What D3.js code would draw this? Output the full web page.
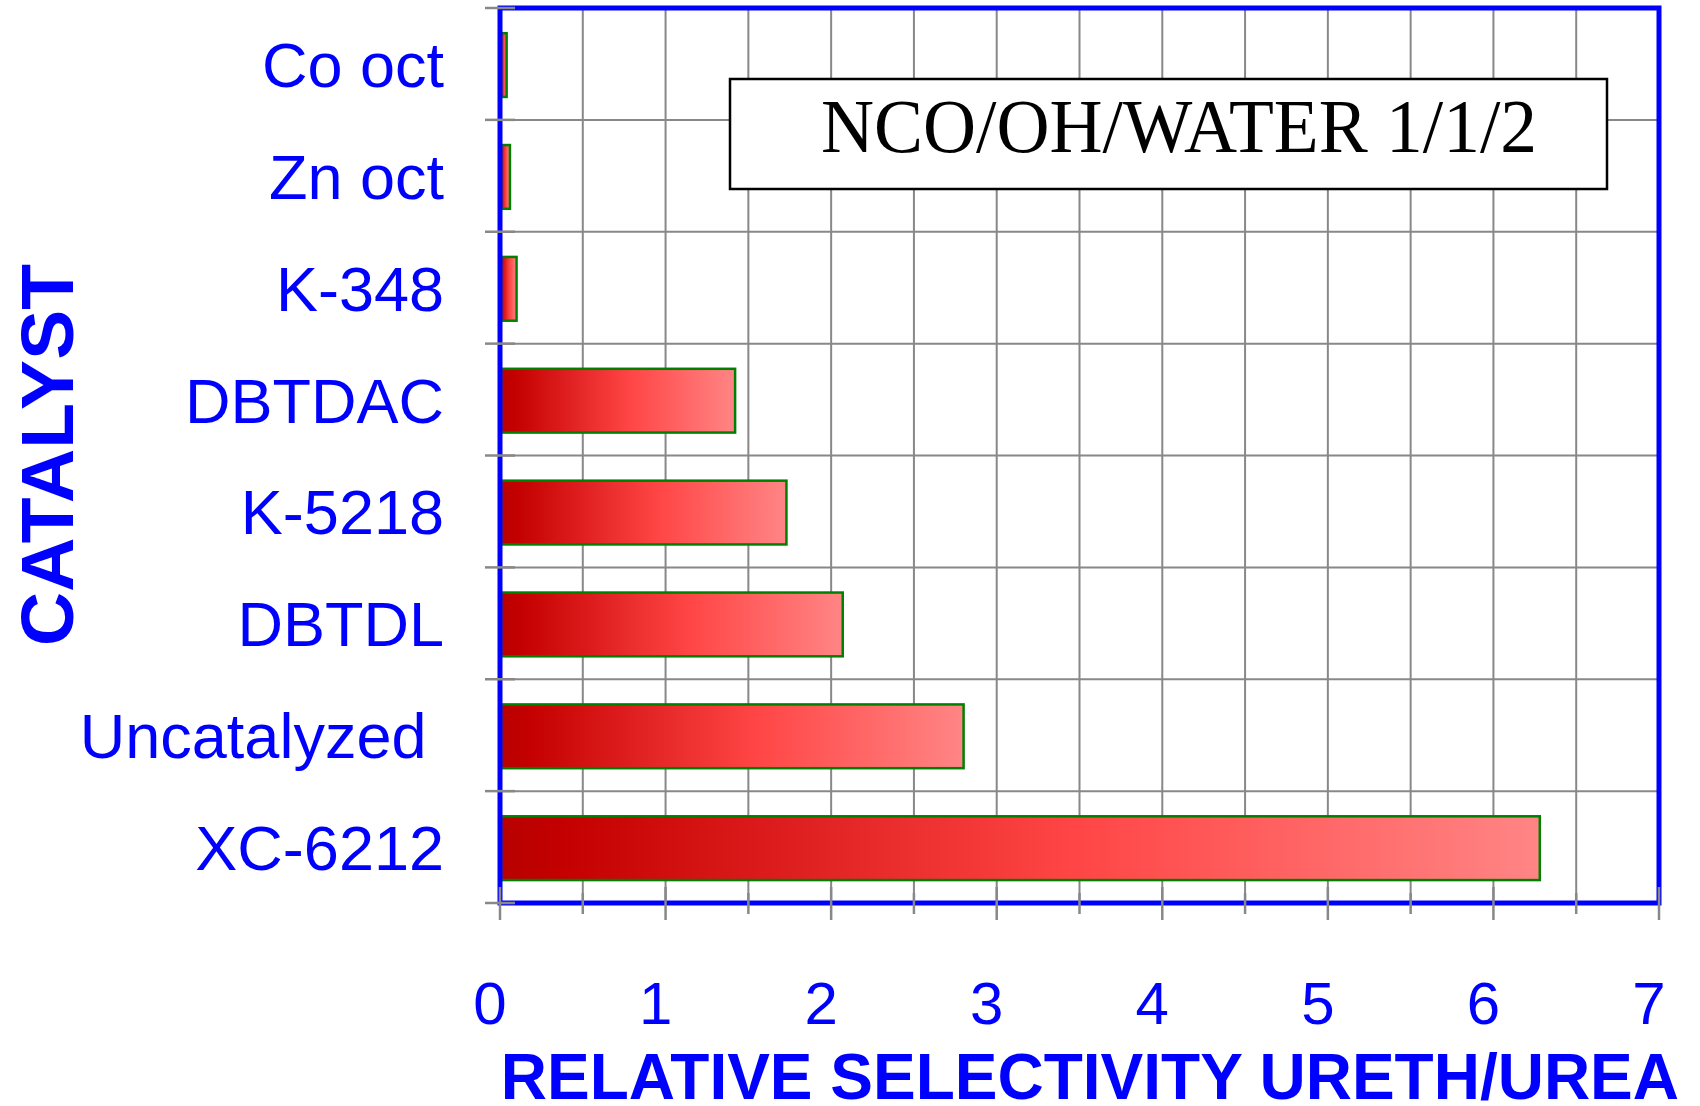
<html>
<head>
<meta charset="utf-8">
<title>Relative selectivity</title>
<style>
  body { margin: 0; background: #fff; }
  .grid line { stroke: #888; stroke-width: 2px; }
  .ticks line { stroke: #888; stroke-width: 2.5px; }
  .border { fill: none; stroke: #0000ff; stroke-width: 5px; }
  .bar { stroke: #008000; stroke-width: 2.5px; }
  .cat { font-family: "Liberation Sans", Arial, sans-serif; font-size: 63px; fill: #0000ff; white-space: pre; }
  .xt { font-family: "Liberation Sans", Arial, sans-serif; font-size: 60px; fill: #0000ff; }
  .atitle { font-family: "Liberation Sans", Arial, sans-serif; font-weight: bold; fill: #0000ff; }
</style>
</head>
<body>
<svg width="1700" height="1106"></svg>
<script src="https://d3js.org/d3.v7.min.js"></script>
<script>
// data, top to bottom
var catalysts = ["Co oct", "Zn oct", "K-348", "DBTDAC", "K-5218", "DBTDL", "Uncatalyzed ", "XC-6212"];
var selectivity = [0.04, 0.06, 0.10, 1.42, 1.73, 2.07, 2.80, 6.28];
var xTicks = [0, 1, 2, 3, 4, 5, 6, 7];
var xMinor = [0.5, 1.5, 2.5, 3.5, 4.5, 5.5, 6.5];
var boxLabel = "NCO/OH/WATER 1/1/2";

var svg = d3.select("svg");
var plotL = 500, plotR = 1659, plotT = 8, plotB = 903;

var x = d3.scaleLinear().domain([0, 7]).range([plotL, plotR]);
var y = d3.scaleBand().domain(catalysts).range([plotT, plotB]);
var bw = y.bandwidth();

var data = catalysts.map(function (c, i) { return { name: c, value: selectivity[i] }; });

// gradient for bars
var grad = svg.append("defs").append("linearGradient")
    .attr("id", "barGrad")
    .attr("x1", "0").attr("x2", "1").attr("y1", "0").attr("y2", "0");
grad.append("stop").attr("offset", "0").attr("stop-color", "#b80000");
grad.append("stop").attr("offset", "0.06").attr("stop-color", "#c40000");
grad.append("stop").attr("offset", "0.55").attr("stop-color", "#ff4545");
grad.append("stop").attr("offset", "1").attr("stop-color", "#ff8585");

// grid
var grid = svg.append("g").attr("class", "grid");
grid.selectAll(".v").data(xTicks.concat(xMinor)).enter().append("line")
    .attr("x1", function (d) { return x(d); }).attr("x2", function (d) { return x(d); })
    .attr("y1", plotT).attr("y2", plotB);
var bounds = catalysts.map(function (c) { return y(c); }).concat([plotB]);
grid.selectAll(".h").data(bounds).enter().append("line")
    .attr("x1", plotL).attr("x2", plotR)
    .attr("y1", function (d) { return d; }).attr("y2", function (d) { return d; });

// bars
svg.append("g").selectAll("rect").data(data).enter().append("rect")
    .attr("class", "bar")
    .attr("fill", "url(#barGrad)")
    .attr("x", x(0) + 1)
    .attr("y", function (d) { return y(d.name) + bw * 0.225; })
    .attr("width", function (d) { return x(d.value) - x(0) - 1; })
    .attr("height", bw * 0.57);

// plot border
svg.append("rect").attr("class", "border")
    .attr("x", plotL).attr("y", plotT)
    .attr("width", plotR - plotL).attr("height", plotB - plotT);

// tick marks
var ticks = svg.append("g").attr("class", "ticks");
ticks.selectAll(".yt").data(bounds).enter().append("line")
    .attr("x1", plotL - 15).attr("x2", plotL + 15)
    .attr("y1", function (d) { return d; }).attr("y2", function (d) { return d; });
ticks.selectAll(".xmaj").data(xTicks).enter().append("line")
    .attr("x1", function (d) { return x(d); }).attr("x2", function (d) { return x(d); })
    .attr("y1", plotB - 16).attr("y2", plotB + 17);
ticks.selectAll(".xmin").data(xMinor).enter().append("line")
    .attr("x1", function (d) { return x(d); }).attr("x2", function (d) { return x(d); })
    .attr("y1", plotB - 10).attr("y2", plotB + 11);

// category labels
svg.append("g").selectAll("text").data(catalysts).enter().append("text")
    .attr("class", "cat")
    .attr("text-anchor", "end")
    .attr("x", 444)
    .attr("y", function (d) { return y(d) + bw / 2 + 23; })
    .text(function (d) { return d; });

// x tick labels
svg.append("g").selectAll("text").data(xTicks).enter().append("text")
    .attr("class", "xt")
    .attr("text-anchor", "middle")
    .attr("x", function (d) { return x(d) - 10; })
    .attr("y", 1024)
    .text(function (d) { return d; });

// axis titles
svg.append("text").attr("class", "atitle")
    .attr("text-anchor", "end")
    .attr("x", 1679).attr("y", 1099)
    .style("font-size", "64px")
    .text("RELATIVE SELECTIVITY URETH/UREA");

svg.append("text").attr("class", "atitle")
    .attr("text-anchor", "middle")
    .attr("transform", "translate(73,455) rotate(-90)")
    .style("font-size", "75px")
    .text("CATALYST");

// label box
svg.append("rect")
    .attr("x", 730).attr("y", 79).attr("width", 877).attr("height", 110)
    .attr("fill", "#fff").attr("stroke", "#000").attr("stroke-width", 2.5);
svg.append("text")
    .attr("x", 821).attr("y", 152)
    .attr("textLength", 716).attr("lengthAdjust", "spacingAndGlyphs")
    .style("font-family", "'Liberation Serif', 'Times New Roman', serif")
    .style("font-size", "77px")
    .style("fill", "#000")
    .text(boxLabel);
</script>
</body>
</html>
